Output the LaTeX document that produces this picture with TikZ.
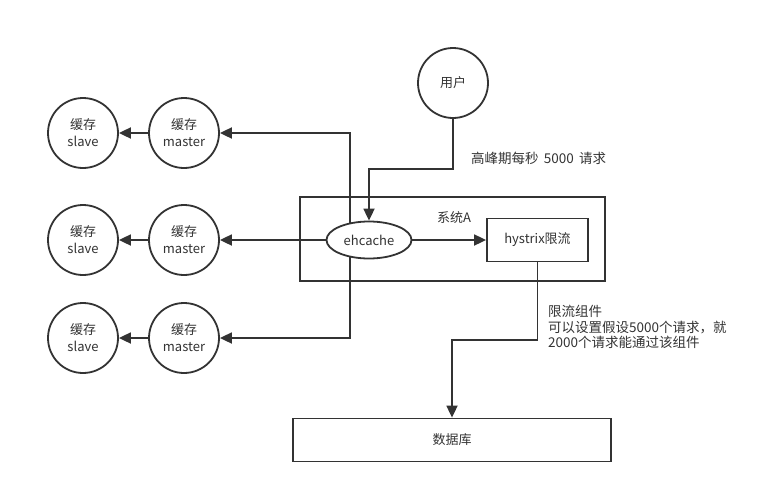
\documentclass[tikz,border=0pt]{standalone}
\usepackage{fontspec}
\setmainfont{Noto Sans CJK SC}
\usetikzlibrary{arrows.meta,shapes.geometric,backgrounds}
\definecolor{ink}{HTML}{333333}
\begin{document}
\begin{tikzpicture}[x=1pt,y=-1pt,
  every node/.style={text=ink,font=\fontsize{13}{17}\selectfont},
  circ/.style={circle,draw=ink,line width=1.8pt,minimum size=70pt,inner sep=0pt,align=center,fill=white},
  boxnode/.style={rectangle,draw=ink,line width=1.8pt,inner sep=0pt},
  arr/.style={draw=ink,line width=1.8pt,-{Triangle[length=12pt,width=11pt]}},
  lbl/.style={inner sep=0pt,align=left},
  note/.style={lbl,font=\fontsize{13.5}{15.6}\selectfont}]
\useasboundingbox (0,0) rectangle (779,493);
% system A box
\node[boxnode,minimum width=305pt,minimum height=84pt] (sysA) at (452.5,239) {};
\node[lbl] (sysAl) at (454,218) {系统A};
% cache circles
\node[circ] (s1) at (83,133) {缓存\\slave};
\node[circ] (s2) at (83,240) {缓存\\slave};
\node[circ] (s3) at (83,338) {缓存\\slave};
\node[circ] (m1) at (184,133) {缓存\\master};
\node[circ] (m2) at (184,240) {缓存\\master};
\node[circ] (m3) at (184,338) {缓存\\master};
% user
\node[circ] (user) at (453,83) {用户};
% ehcache
\node[ellipse,draw=ink,line width=1.8pt,fill=white,minimum width=85pt,minimum height=37pt,inner sep=0pt] (eh) at (369,240) {ehcache};
% hystrix
\node[boxnode,minimum width=101pt,minimum height=43pt,fill=white] (hys) at (537.5,240) {hystrix限流};
% database
\node[boxnode,minimum width=318pt,minimum height=43pt] (db) at (452,440) {数据库};
% coordinates
\coordinate (vx) at (350,0);
\coordinate (k1) at (0,169);
\coordinate (k2) at (0,340);
% connectors
\begin{scope}[on background layer]
\draw[arr] (eh.center -| vx) |- (m1.east);
\draw[arr] (eh.center -| vx) |- (m3.east);
\end{scope}
\draw[arr] (eh.west) -- (m2.east);
\draw[arr] (m1.west) -- (s1.east);
\draw[arr] (m2.west) -- (s2.east);
\draw[arr] (m3.west) -- (s3.east);
\draw[arr] (user.south) -- (user.south |- k1) -| (eh.north);
\draw[arr] (eh.east) -- (hys.west);
\draw[arr] (hys.south) -- (hys.south |- k2) -| (db.north);
% labels
\node[note,anchor=west] (peak) at (471,158) {高峰期每秒 \,5000 \,请求};
\node[note,anchor=west] (notetxt) at (548,327) {限流组件\\可以设置假设5000个请求，就\\2000个请求能通过该组件};
\end{tikzpicture}
\end{document}
